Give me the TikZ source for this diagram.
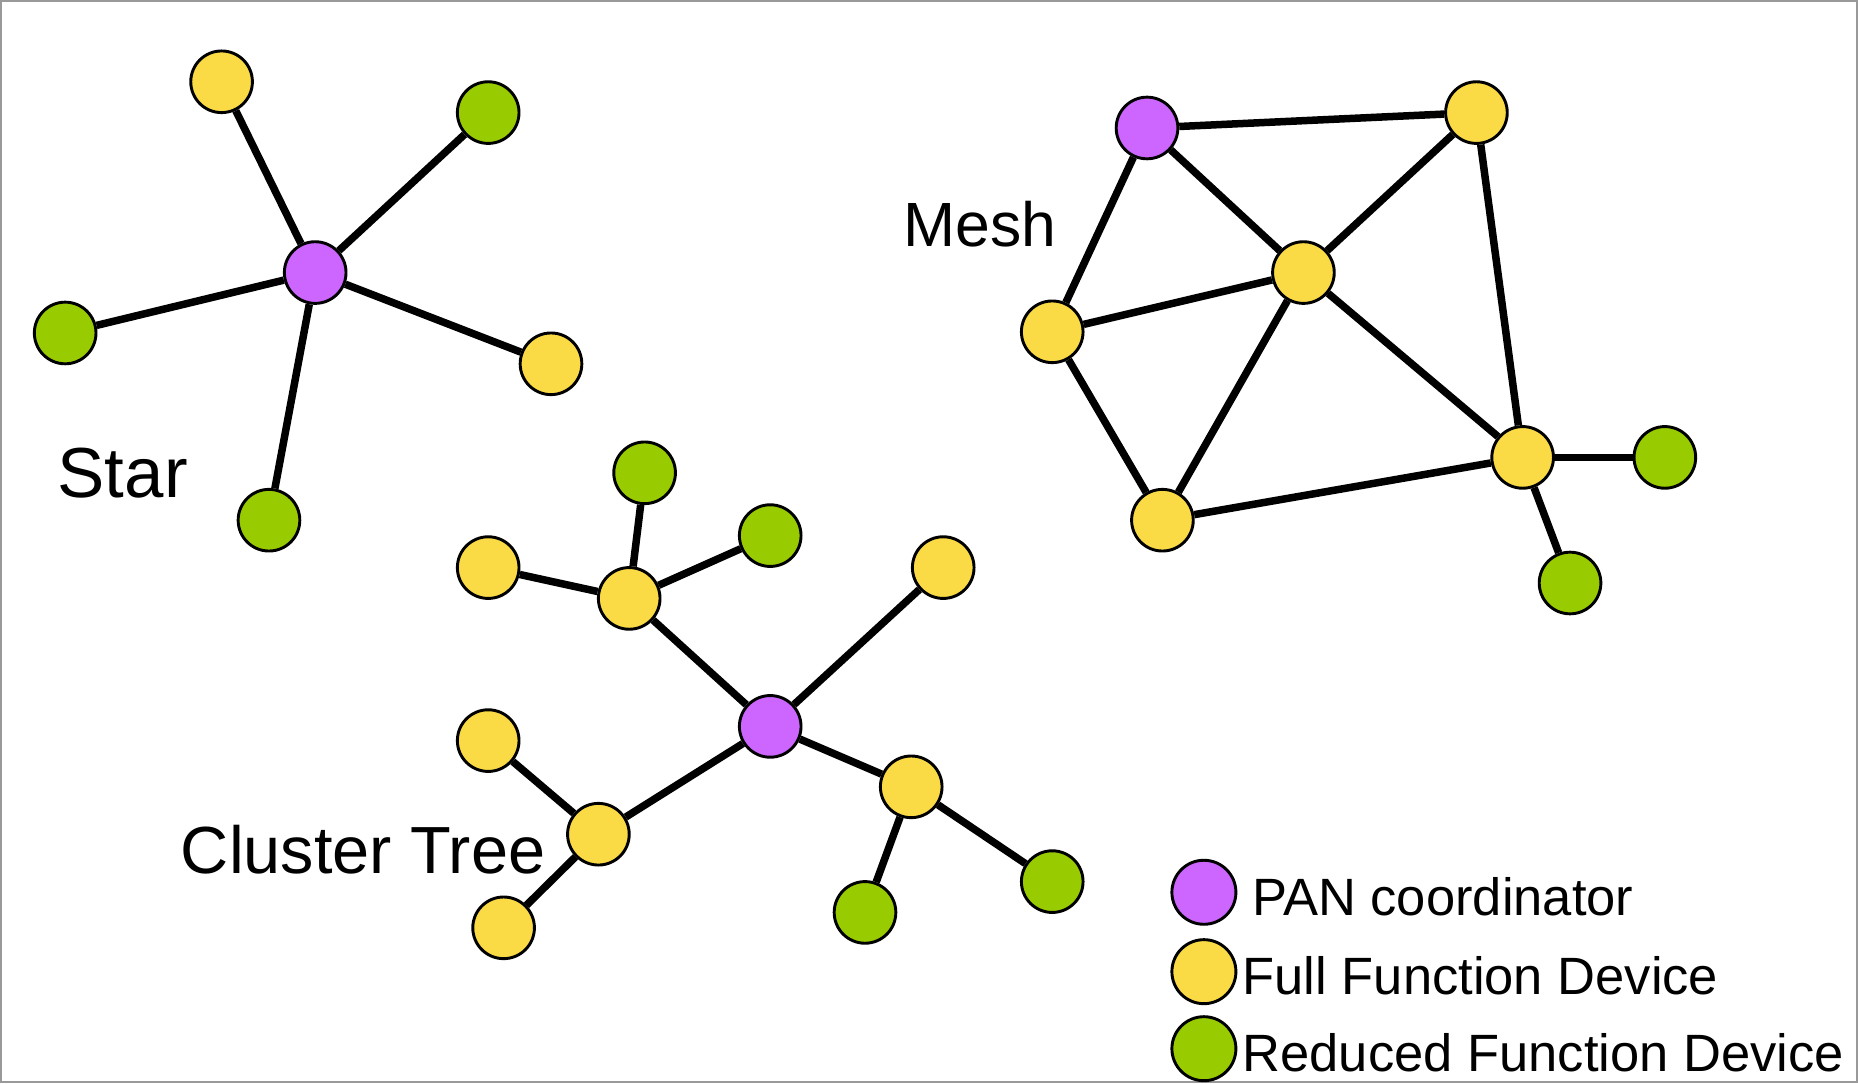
\documentclass[tikz,border=0pt]{standalone}
\usepackage{fontspec}
\setmainfont{Liberation Sans}
\definecolor{pan}{HTML}{CC66FF}
\definecolor{ffd}{HTML}{FADB45}
\definecolor{rfd}{HTML}{99CC00}
\tikzset{
  dev/.style={circle, draw=black, line width=0.7pt, minimum size=0.52cm, inner sep=0pt},
  pannode/.style={dev, fill=pan},
  ffdnode/.style={dev, fill=ffd},
  rfdnode/.style={dev, fill=rfd},
  link/.style={line width=1.8pt, black},
  title/.style={anchor=base west, inner sep=0pt, font=\fontsize{16}{18}\selectfont},
  legtext/.style={anchor=base west, inner sep=0pt, font=\fontsize{12.6}{15}\selectfont}
}
\begin{document}
\begin{tikzpicture}[x=0.01cm, y=-0.01cm]
\useasboundingbox (0,0) rectangle (1568,914);
\draw[gray!80, line width=0.6pt] (1,1) rectangle (1567,913);
% Star
\node[pannode] (s0) at (266,230) {};
\node[ffdnode] (s1) at (187,69) {};
\node[rfdnode] (s2) at (412,95) {};
\node[rfdnode] (s3) at (55,281) {};
\node[ffdnode] (s4) at (465,307) {};
\node[rfdnode] (s5) at (227,439) {};
\foreach \t in {s1,s2,s3,s4,s5} \draw[link] (s0) -- (\t);
\node[title, font=\fontsize{17}{19}\selectfont] (star) at (48,420) {Star};
% Mesh
\node[pannode] (m0) at (968,108) {};
\node[ffdnode] (m1) at (1246,95) {};
\node[ffdnode] (m2) at (1100,230) {};
\node[ffdnode] (m3) at (888,280) {};
\node[ffdnode] (m4) at (1285,386) {};
\node[ffdnode] (m5) at (981,439) {};
\node[rfdnode] (m6) at (1405,386) {};
\node[rfdnode] (m7) at (1325,492) {};
\foreach \a/\b in {m0/m1,m0/m2,m0/m3,m1/m2,m1/m4,m2/m3,m2/m4,m2/m5,m3/m5,m5/m4,m4/m6,m4/m7}
  \draw[link] (\a) -- (\b);
\node[title, font=\fontsize{15}{17}\selectfont] (mesh) at (762,208) {Mesh};
% Cluster tree
\node[pannode] (c0) at (650,613) {};
\node[ffdnode] (c1) at (531,505) {};
\node[ffdnode] (c2) at (412,479) {};
\node[rfdnode] (c3) at (544,399) {};
\node[rfdnode] (c4) at (650,452) {};
\node[ffdnode] (c5) at (796,479) {};
\node[ffdnode] (c6) at (412,625) {};
\node[ffdnode] (c7) at (505,704) {};
\node[ffdnode] (c8) at (425,783) {};
\node[ffdnode] (c9) at (769,664) {};
\node[rfdnode] (c10) at (730,770) {};
\node[rfdnode] (c11) at (888,744) {};
\foreach \a/\b in {c0/c1,c1/c2,c1/c3,c1/c4,c0/c5,c0/c7,c7/c6,c7/c8,c0/c9,c9/c10,c9/c11}
  \draw[link] (\a) -- (\b);
\node[title] (tree) at (152,737) {Cluster Tree};
% Legend
\node[pannode, minimum size=0.54cm] (l1) at (1016,753) {};
\node[ffdnode, minimum size=0.54cm] (l2) at (1016,820) {};
\node[rfdnode, minimum size=0.54cm] (l3) at (1016,885) {};
\node[legtext] (t1) at (1056,773) {PAN coordinator};
\node[legtext] (t2) at (1048,839) {Full Function Device};
\node[legtext] (t3) at (1048,904) {Reduced Function Device};
\end{tikzpicture}
\end{document}
